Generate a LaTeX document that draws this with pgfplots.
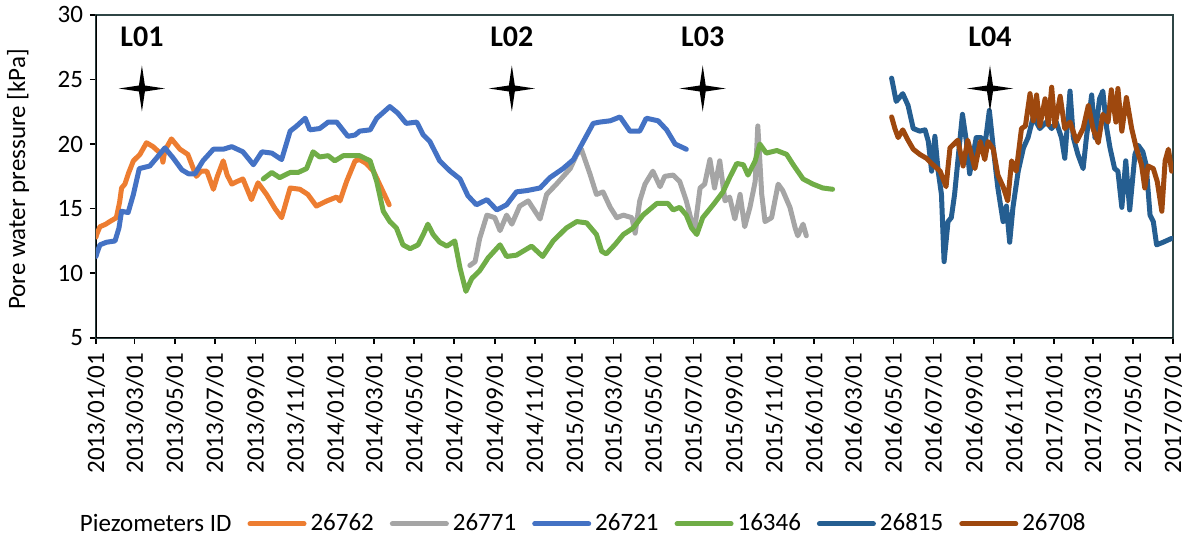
\documentclass[border=0pt]{standalone}
\usepackage{fontspec}
\setmainfont{Carlito}
\usepackage{pgfplots}
\pgfplotsset{compat=1.18}

\definecolor{cOr}{HTML}{ED7D31}
\definecolor{cGr}{HTML}{A5A5A5}
\definecolor{cBl}{HTML}{4472C4}
\definecolor{cGn}{HTML}{70AD47}
\definecolor{cDb}{HTML}{255E91}
\definecolor{cBr}{HTML}{9E480E}
\definecolor{frame}{HTML}{2F4545}

\pgfdeclareplotmark{star4}{%
  \pgfpathmoveto{\pgfpoint{0pt}{\pgfplotmarksize}}%
  \pgfpathlineto{\pgfpoint{0.13\pgfplotmarksize}{0.13\pgfplotmarksize}}%
  \pgfpathlineto{\pgfpoint{\pgfplotmarksize}{0pt}}%
  \pgfpathlineto{\pgfpoint{0.13\pgfplotmarksize}{-0.13\pgfplotmarksize}}%
  \pgfpathlineto{\pgfpoint{0pt}{-\pgfplotmarksize}}%
  \pgfpathlineto{\pgfpoint{-0.13\pgfplotmarksize}{-0.13\pgfplotmarksize}}%
  \pgfpathlineto{\pgfpoint{-\pgfplotmarksize}{0pt}}%
  \pgfpathlineto{\pgfpoint{-0.13\pgfplotmarksize}{0.13\pgfplotmarksize}}%
  \pgfpathclose\pgfusepathqfill}

\newcommand{\tfont}{\fontsize{12.5}{14}\selectfont}

\begin{document}
\begin{tikzpicture}
\begin{axis}[name=ax, scale only axis, width=538.5pt, height=161.5pt,
  xmin=0, xmax=1642, ymin=5, ymax=30,
  xtick={0,59,120,181,243,304,365,424,485,546,608,669,730,789,850,911,973,1034,1095,1155,1216,1277,1339,1400,1461,1520,1581,1642},
  xticklabels={2013/01/01,2013/03/01,2013/05/01,2013/07/01,2013/09/01,2013/11/01,2014/01/01,2014/03/01,2014/05/01,2014/07/01,2014/09/01,2014/11/01,2015/01/01,2015/03/01,2015/05/01,2015/07/01,2015/09/01,2015/11/01,2016/01/01,2016/03/01,2016/05/01,2016/07/01,2016/09/01,2016/11/01,2017/01/01,2017/03/01,2017/05/01,2017/07/01},
  x tick label style={rotate=90, anchor=east, font=\tfont},
  xticklabel shift=1pt,
  ytick={5,10,...,30},
  y tick label style={font=\tfont},
  /pgf/number format/assume math mode=true,
  tick align=outside, xtick pos=bottom, ytick pos=left,
  major tick length=3pt,
  tick style={black, line width=0.8pt},
  axis line style={draw=frame, line width=0.8pt},
  ylabel={Pore water pressure [kPa]},
  ylabel style={font=\tfont, at={(axis description cs:-0.0724,0.49)}, anchor=center},
  legend columns=7,
  legend style={at={(axis description cs:0.452,-0.576)}, anchor=center, draw=none, font=\tfont,
    /tikz/every even column/.append style={column sep=6pt}},
  legend image code/.code={\draw[#1, line width=2.5pt, line cap=round] (0pt,0pt) -- (27pt,0pt);},
  every axis plot/.append style={line width=2.5pt, line join=round, line cap=round},
]
\draw[black, line width=0.9pt] (rel axis cs:0,1) -- (rel axis cs:0,0) -- (rel axis cs:1,0);

\addlegendimage{empty legend}
\addlegendentry{Piezometers ID\hspace{5pt}}

% 26762 orange
\addplot[cOr, no marks] coordinates {
(0,12.8)(1,13.0)(6,13.6)(15,13.8)(21,14.0)(31,14.3)(36,15.5)(39,16.6)(44,16.9)(50,17.8)(57,18.7)(67,19.2)(77,20.1)(87,19.8)(100,19.2)(102,18.6)(105,19.5)(115,20.4)(128,19.6)(140,19.2)(153,17.5)(160,17.9)(169,17.9)(179,16.5)(185,17.5)(194,18.7)(200,17.6)(207,16.9)(215,17.1)(224,17.3)(237,15.7)(247,17.0)(260,16.1)(273,15.0)(283,14.3)(296,16.6)(311,16.5)(323,16.1)(336,15.2)(352,15.6)(367,15.9)(372,15.6)(382,17.1)(395,18.7)(402,18.8)(412,18.5)(423,17.9)(435,16.6)(447,15.3)
};
\addlegendentry{26762}

% 26771 gray
\addplot[cGr, no marks] coordinates {
(570,10.6)(578,10.9)(585,12.7)(596,14.5)(608,14.3)(616,13.3)(626,14.5)(634,13.8)(646,15.2)(659,15.6)(677,14.2)(687,16.1)(702,16.9)(723,18.1)(733,19.2)(740,19.6)(753,17.7)(763,16.1)(773,16.3)(784,15.1)(794,14.3)(804,14.5)(817,14.3)(822,13.1)(829,15.6)(837,16.9)(849,17.9)(860,16.7)(867,17.5)(880,17.6)(890,17.1)(900,15.6)(908,14.0)(913,13.5)(921,16.6)(928,16.9)(936,18.8)(943,16.6)(951,18.7)(959,15.6)(966,15.9)(974,14.2)(982,16.1)(989,13.6)(997,15.1)(1005,17.1)(1009,21.4)(1015,16.1)(1020,14.0)(1030,14.3)(1040,16.9)(1047,16.4)(1058,15.1)(1066,13.5)(1070,12.9)(1078,13.8)(1083,12.9)
};
\addlegendentry{26771}

% 26721 blue
\addplot[cBl, no marks] coordinates {
(0,11.3)(1,11.5)(6,12.2)(16,12.4)(29,12.5)(35,13.5)(39,14.8)(49,14.7)(57,16.1)(66,18.1)(82,18.3)(92,18.9)(105,19.7)(118,18.9)(131,18.0)(141,17.7)(151,17.7)(163,18.7)(179,19.6)(194,19.6)(207,19.8)(224,19.4)(240,18.4)(253,19.4)(268,19.3)(283,18.8)(296,21.0)(306,21.4)(319,22.0)(326,21.1)(341,21.2)(354,21.7)(367,21.7)(384,20.6)(395,20.7)(402,21.0)(418,21.1)(428,22.0)(448,22.9)(460,22.4)(473,21.6)(489,21.7)(499,20.7)(509,20.2)(524,18.7)(540,17.9)(555,17.3)(567,16.0)(580,15.3)(596,15.7)(611,14.9)(626,15.3)(641,16.3)(657,16.4)(677,16.6)(692,17.4)(712,18.1)(728,18.8)(743,20.2)(758,21.6)(768,21.7)(784,21.8)(799,22.1)(814,21.0)(829,21.0)(839,22.0)(857,21.8)(870,21.1)(883,20.0)(900,19.6)
};
\addlegendentry{26721}

% 16346 green
\addplot[cGn, no marks] coordinates {
(255,17.3)(268,17.8)(280,17.4)(296,17.8)(308,17.8)(321,18.1)(331,19.4)(341,19.0)(354,19.1)(364,18.7)(377,19.1)(387,19.1)(402,19.1)(418,18.7)(428,17.1)(438,14.8)(448,14.0)(458,13.5)(468,12.2)(479,11.9)(491,12.2)(499,13.0)(506,13.8)(514,13.0)(524,12.4)(535,12.1)(547,12.5)(555,10.4)(564,8.6)(573,9.6)(585,10.2)(598,11.2)(616,12.2)(626,11.3)(641,11.4)(664,12.1)(681,11.3)(697,12.5)(717,13.5)(733,14.0)(748,13.9)(763,13.0)(771,11.7)(778,11.5)(791,12.2)(804,13.0)(819,13.5)(834,14.5)(855,15.4)(872,15.4)(880,14.9)(890,15.1)(900,14.5)(908,13.5)(916,13.0)(925,14.3)(941,15.3)(956,16.3)(966,17.4)(977,18.5)(987,18.4)(994,17.6)(1005,18.7)(1012,20.0)(1022,19.3)(1038,19.5)(1053,19.2)(1063,18.4)(1078,17.3)(1093,16.9)(1108,16.6)(1123,16.5)
};
\addlegendentry{16346}

% 26815 dark blue
\addplot[cDb, no marks] coordinates {
(1213,25.1)(1220,23.3)(1230,23.9)(1238,23.0)(1246,21.2)(1256,21.0)(1264,21.1)(1269,20.2)(1274,17.9)(1279,20.6)(1284,17.9)(1289,16.1)(1293,10.9)(1299,14.0)(1304,14.3)(1309,16.1)(1314,18.7)(1321,22.3)(1327,20.2)(1332,17.7)(1342,20.5)(1350,20.5)(1355,19.8)(1362,22.6)(1368,19.7)(1375,16.6)(1383,14.0)(1388,15.2)(1393,12.4)(1398,15.1)(1406,17.9)(1414,19.7)(1421,20.5)(1429,22.1)(1439,21.2)(1449,21.7)(1457,21.2)(1464,21.7)(1472,20.5)(1477,18.9)(1485,24.1)(1490,20.5)(1497,19.2)(1505,18.1)(1510,20.5)(1518,23.8)(1523,20.5)(1530,23.5)(1535,24.1)(1541,21.2)(1546,19.7)(1553,18.1)(1558,17.9)(1564,15.1)(1570,18.7)(1576,14.9)(1584,19.2)(1589,19.9)(1596,19.4)(1601,18.4)(1607,14.5)(1612,14.0)(1617,12.2)(1627,12.4)(1640,12.7)
};
\addlegendentry{26815}

% 26708 brown
\addplot[cBr, no marks] coordinates {
(1213,22.1)(1218,21.2)(1223,20.5)(1230,21.1)(1238,20.3)(1246,19.6)(1256,19.2)(1266,18.9)(1276,18.4)(1287,17.9)(1296,16.7)(1302,19.7)(1314,20.3)(1322,18.3)(1329,20.3)(1340,18.1)(1348,20.2)(1355,18.8)(1360,20.2)(1368,19.6)(1375,17.6)(1383,16.7)(1390,15.6)(1396,18.7)(1403,17.9)(1411,21.2)(1417,21.4)(1424,23.9)(1429,21.8)(1434,23.8)(1439,21.4)(1447,23.5)(1452,21.5)(1457,24.4)(1462,21.4)(1470,23.7)(1477,21.2)(1485,21.7)(1495,20.2)(1505,21.2)(1513,23.0)(1520,21.2)(1528,20.1)(1535,22.3)(1543,21.7)(1548,24.2)(1555,21.7)(1558,24.3)(1564,21.0)(1571,23.6)(1579,21.2)(1586,19.7)(1594,18.4)(1599,16.6)(1604,18.3)(1612,18.1)(1618,17.1)(1625,14.8)(1630,18.7)(1635,19.6)(1640,17.9)
};
\addlegendentry{26708}

% load markers
\addplot[forget plot, only marks, mark=star4, mark size=11.5pt, black,
  nodes near coords, point meta=explicit symbolic,
  nodes near coords style={font=\fontsize{15}{17}\bfseries\selectfont, anchor=center, yshift=26pt, black}]
  table[meta=label] {
x y label
70 24.3 L01
634 24.3 L02
925 24.3 L03
1363 24.3 L04
};
\end{axis}
\path (ax.south west) ++(-48pt,-103.5pt) rectangle ++(598pt,271.5pt);
\end{tikzpicture}
\end{document}
